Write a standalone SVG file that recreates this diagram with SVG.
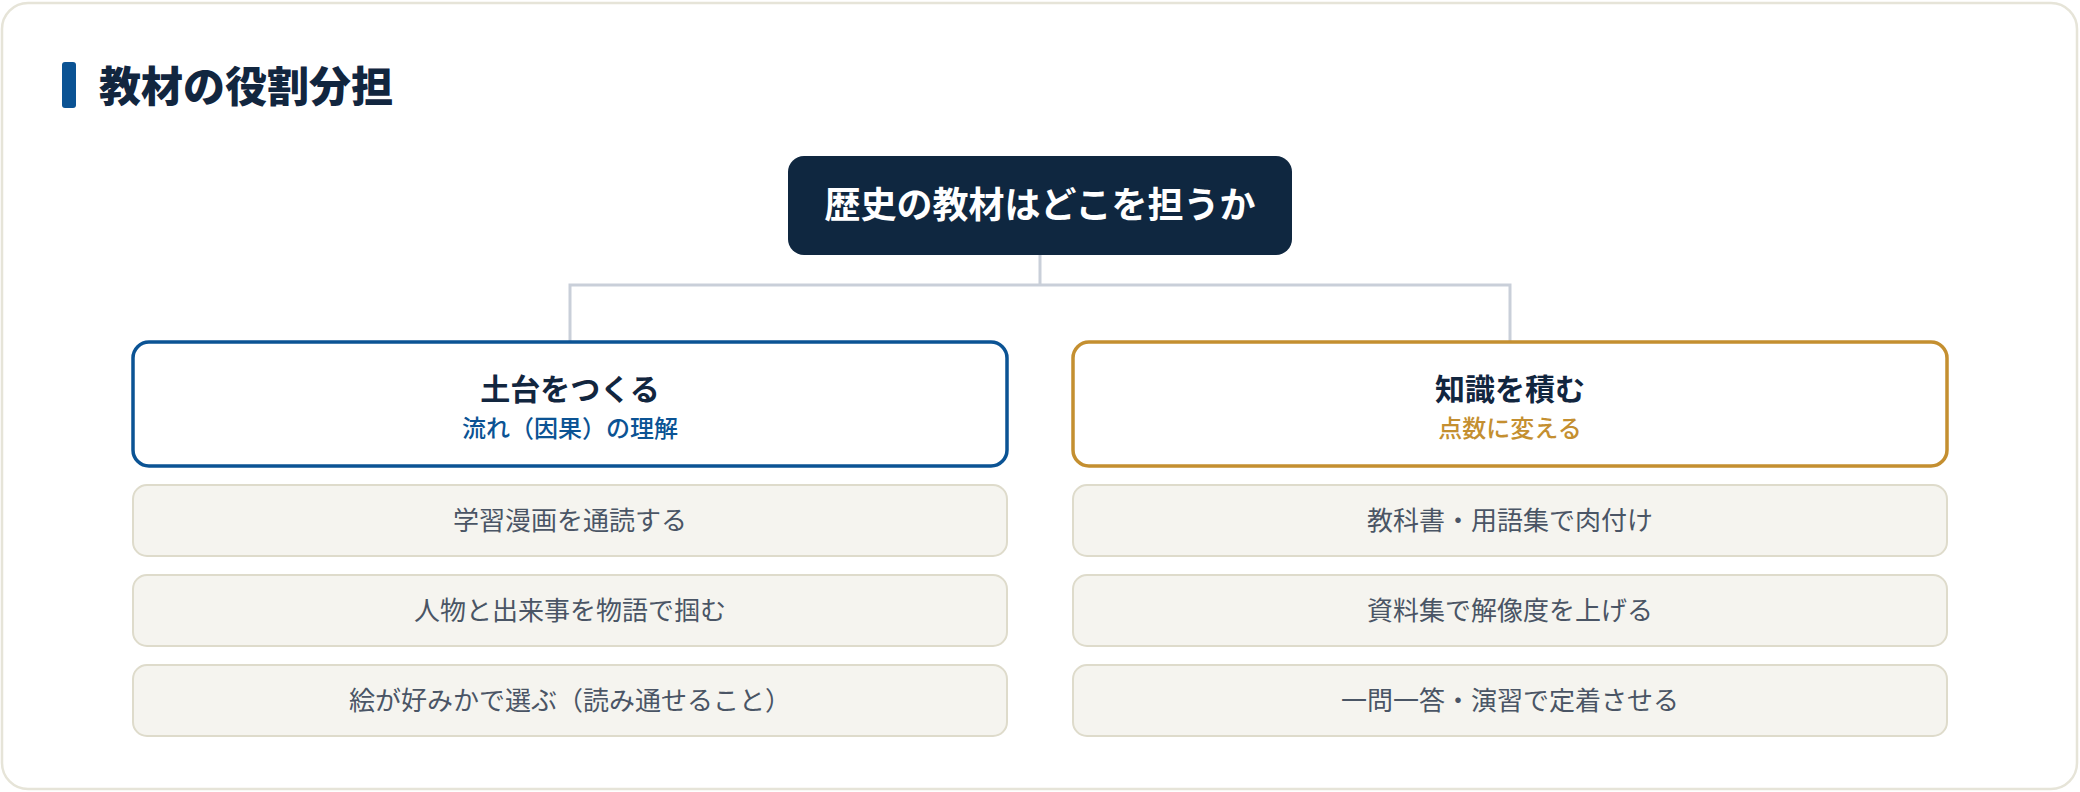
<svg xmlns="http://www.w3.org/2000/svg" width="2080" height="792" viewBox="0 0 2080 792">
<style>
text{font-family:"Noto Sans CJK JP","Noto Sans",sans-serif;text-anchor:middle}
.title{font-size:42px;font-weight:900;fill:#12263f;text-anchor:start}
.root{font-size:36px;font-weight:700;fill:#ffffff}
.head{font-size:30px;font-weight:700;fill:#12263f}
.subL{font-size:24px;font-weight:500;fill:#0b5394}
.subR{font-size:24px;font-weight:500;fill:#c48f30}
.item rect{fill:#f5f4ef;stroke:#dedbcb;stroke-width:2}
.item text{font-size:26px;fill:#4a5565}
.conn{fill:none;stroke:#c9cfd9;stroke-width:3}
</style>
<rect x="0" y="0" width="2080" height="792" fill="#ffffff"/>
<rect x="2" y="3" width="2075" height="786" rx="26" fill="#ffffff" stroke="#e6e4d8" stroke-width="2.5"/>
<g id="title">
<rect x="62" y="62" width="14" height="46" rx="3" fill="#0b5394"/>
<text class="title" x="99" y="102">教材の役割分担</text>
</g>
<g id="connectors">
<path class="conn" d="M1040 255 V285 M570 285 H1510 M570 283.5 V342 M1510 283.5 V342"/>
</g>
<g id="root">
<rect x="788" y="156" width="504" height="99" rx="16" fill="#0f2740"/>
<text class="root" x="1040" y="218">歴史の教材はどこを担うか</text>
</g>
<g id="left-head">
<rect x="133" y="342" width="874" height="124" rx="16" fill="#ffffff" stroke="#0b5394" stroke-width="3.5"/>
<text class="head" x="570" y="400">土台をつくる</text>
<text class="subL" x="570" y="437">流れ（因果）の理解</text>
</g>
<g id="right-head">
<rect x="1073" y="342" width="874" height="124" rx="16" fill="#ffffff" stroke="#c48f30" stroke-width="3.5"/>
<text class="head" x="1510" y="400">知識を積む</text>
<text class="subR" x="1510" y="437">点数に変える</text>
</g>
<g id="l1" class="item"><rect x="133" y="485" width="874" height="71" rx="14"/><text x="570" y="530">学習漫画を通読する</text></g>
<g id="l2" class="item"><rect x="133" y="575" width="874" height="71" rx="14"/><text x="570" y="620">人物と出来事を物語で掴む</text></g>
<g id="l3" class="item"><rect x="133" y="665" width="874" height="71" rx="14"/><text x="570" y="710">絵が好みかで選ぶ（読み通せること）</text></g>
<g id="r1" class="item"><rect x="1073" y="485" width="874" height="71" rx="14"/><text x="1510" y="530">教科書・用語集で肉付け</text></g>
<g id="r2" class="item"><rect x="1073" y="575" width="874" height="71" rx="14"/><text x="1510" y="620">資料集で解像度を上げる</text></g>
<g id="r3" class="item"><rect x="1073" y="665" width="874" height="71" rx="14"/><text x="1510" y="710">一問一答・演習で定着させる</text></g>
</svg>
